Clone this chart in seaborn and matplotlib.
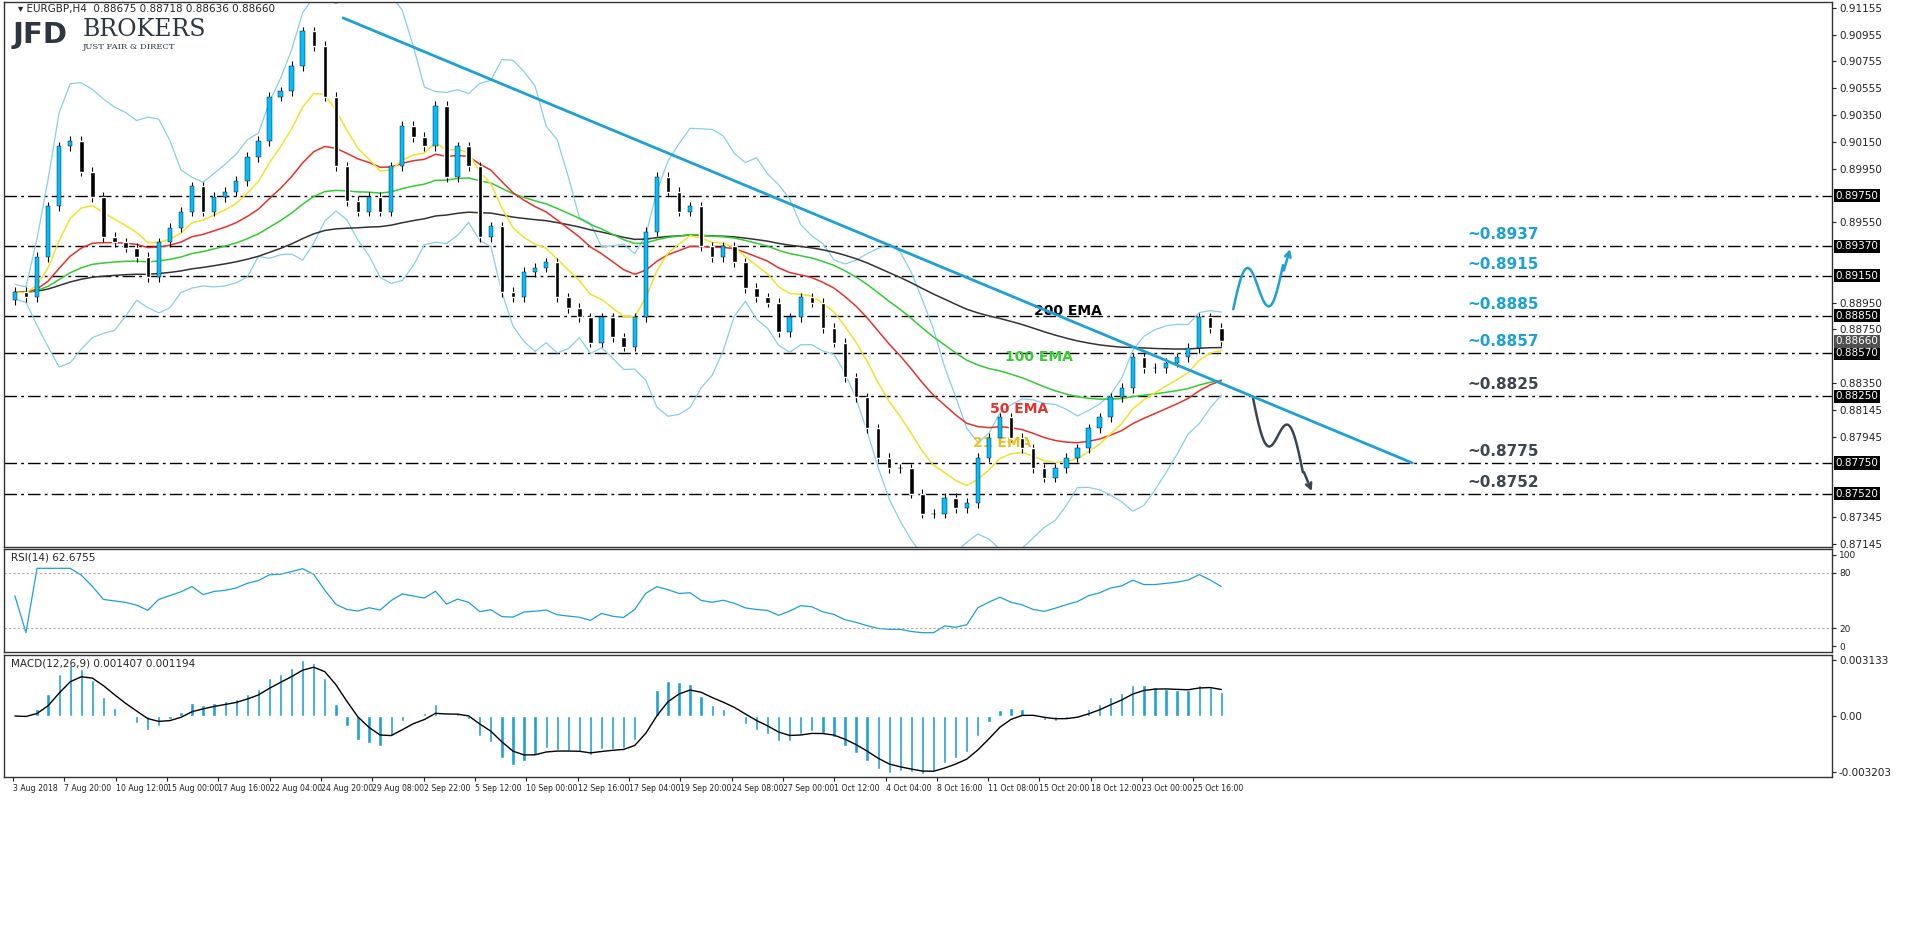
import numpy as np
import pandas as pd
import seaborn as sns
import matplotlib.pyplot as plt

# --- DATA (closes, one value every ~2 bars) ---
closes = [
    0.8903, 0.8899, 0.8929, 0.8967, 0.9012, 0.9016, 0.8993, 0.8974, 0.8944, 0.8940,
    0.8936, 0.8929, 0.8914, 0.8940, 0.8951, 0.8963, 0.8982, 0.8963, 0.8974, 0.8978,
    0.8986, 0.9004, 0.9016, 0.9049, 0.9053, 0.9072, 0.9098, 0.9087, 0.9049, 0.8997,
    0.8971, 0.8963, 0.8974, 0.8963, 0.8997, 0.9027, 0.9019, 0.9012, 0.9042, 0.8989,
    0.9012, 0.8997, 0.8944, 0.8952, 0.8903, 0.8899, 0.8918, 0.8921, 0.8925, 0.8899,
    0.8891, 0.8884, 0.8865, 0.8884, 0.8869, 0.8862, 0.8884, 0.8948, 0.8989, 0.8978,
    0.8963, 0.8967, 0.8937, 0.8929, 0.8937, 0.8925, 0.8906, 0.8899, 0.8895, 0.8873,
    0.8884, 0.8899, 0.8895, 0.8876, 0.8865, 0.8839, 0.8824, 0.8801, 0.8779, 0.8771,
    0.8771, 0.8752, 0.8737, 0.8737, 0.8749, 0.8741, 0.8745, 0.8779, 0.8794, 0.8809,
    0.8794, 0.8786, 0.8771, 0.8764, 0.8771, 0.8779, 0.8786, 0.8801, 0.8809, 0.8824,
    0.8831, 0.8854, 0.8846, 0.8846, 0.8850, 0.8854, 0.8861, 0.8884, 0.8876, 0.8866,
]
open0 = 0.8897

levels = [0.8975, 0.8937, 0.8915, 0.8885, 0.8857, 0.8825, 0.8775, 0.8752]
level_labels = ['', '~0.8937', '~0.8915', '~0.8885', '~0.8857', '~0.8825', '~0.8775', '~0.8752']
level_boxes = ['0.89750', '0.89370', '0.89150', '0.88850', '0.88570', '0.88250', '0.87750', '0.87520']
price_ticks = [0.91155, 0.90955, 0.90755, 0.90555, 0.90350, 0.90150, 0.89950, 0.89550,
               0.88950, 0.88750, 0.88350, 0.88145, 0.87945, 0.87345, 0.87145]
date_labels = ['3 Aug 2018', '7 Aug 20:00', '10 Aug 12:00', '15 Aug 00:00', '17 Aug 16:00',
               '22 Aug 04:00', '24 Aug 20:00', '29 Aug 08:00', '2 Sep 22:00', '5 Sep 12:00',
               '10 Sep 00:00', '12 Sep 16:00', '17 Sep 04:00', '19 Sep 20:00', '24 Sep 08:00',
               '27 Sep 00:00', '1 Oct 12:00', '4 Oct 04:00', '8 Oct 16:00', '11 Oct 08:00',
               '15 Oct 20:00', '18 Oct 12:00', '23 Oct 00:00', '25 Oct 16:00']
trend_price = [0.9108, 0.8775]   # start / end of the drawn resistance line

# --- INDICATORS (periods scaled to the reduced bar count) ---
df = pd.DataFrame({'close': closes})
df['open'] = df['close'].shift(1).fillna(open0)
df['high'] = df[['open', 'close']].max(axis=1) + 0.00035
df['low'] = df[['open', 'close']].min(axis=1) - 0.00035
n = len(df)
df['x'] = np.arange(n)
for name, span in [('e21', 8), ('e50', 20), ('e100', 40), ('e200', 80)]:
    df[name] = df['close'].ewm(span=span, adjust=False).mean()
mid = df['close'].rolling(10, min_periods=1).mean()
sd = df['close'].rolling(10, min_periods=2).std().bfill()
df['bbu'], df['bbl'] = mid + 2 * sd, mid - 2 * sd
delta = df['close'].diff().fillna(0)
up = delta.clip(lower=0).ewm(alpha=1 / 10, adjust=False).mean()
dn = (-delta.clip(upper=0)).ewm(alpha=1 / 10, adjust=False).mean()
df['rsi'] = 100 - 100 / (1 + up / dn.replace(0, 1e-9))
df['rsi'] = df['rsi'].clip(15, 85)
df.loc[0, 'rsi'] = 55
macd = df['close'].ewm(span=5, adjust=False).mean() - df['close'].ewm(span=10, adjust=False).mean()
df['macd'], df['sig'] = macd, macd.ewm(span=4, adjust=False).mean()

# --- FIGURE ---
sns.set_style('white')
plt.rcParams['font.family'] = ['DejaVu Sans']
fig = plt.figure(figsize=(19.16, 9.36), dpi=100)
W = 1832 / 1916
ax = fig.add_axes([0.002, 1 - 547 / 936, W - 0.002, 545 / 936])
ax_r = fig.add_axes([0.002, 1 - 652 / 936, W - 0.002, 103 / 936])
ax_m = fig.add_axes([0.002, 1 - 777 / 936, W - 0.002, 122 / 936])
xmax = (n - 1) * (1832 - 5) / (1218 - 5)
px = lambda p: (p - 5) / (1218 - 5) * (n - 1)

# candles
bull = df['close'] >= df['open']
ax.vlines(df['x'], df['low'], df['high'], color='black', lw=0.8, zorder=3)
ax.bar(df['x'][bull], (df['close'] - df['open'])[bull], bottom=df['open'][bull],
       width=0.4, color='#00bfff', edgecolor='black', lw=0.3, zorder=4)
ax.bar(df['x'][~bull], (df['close'] - df['open'])[~bull], bottom=df['open'][~bull],
       width=0.4, color='black', zorder=4)

for col, c, lw in [('bbu', '#87ceeb', 0.9), ('bbl', '#87ceeb', 0.9), ('e200', '#333333', 1.1),
                   ('e100', '#33cc33', 1.1), ('e50', '#e8312a', 1.1), ('e21', '#f2e22a', 1.1)]:
    sns.lineplot(data=df, x='x', y=col, color=c, lw=lw, ax=ax, zorder=2)

for lv, lab, box in zip(levels, level_labels, level_boxes):
    ax.axhline(lv, color='black', lw=1, ls=(0, (9, 3, 2, 3)), zorder=1)
    tc = '#1ba1d6' if lv > 0.8840 else '#3c4650'
    if lab:
        ax.text(px(1465), lv + 0.0003, lab, color=tc, fontsize=11, fontweight='bold', va='bottom')
    ax.text(1.002, lv, box, transform=ax.get_yaxis_transform(), fontsize=7.5, color='white',
            va='center', ha='left', bbox=dict(boxstyle='square,pad=0.15', fc='black', ec='none'))
ax.text(1.002, 0.8866, '0.88660', transform=ax.get_yaxis_transform(), fontsize=7.5, color='white',
        va='center', ha='left', bbox=dict(boxstyle='square,pad=0.15', fc='#505050', ec='none'))

ax.plot([px(335), px(1410)], trend_price, color='#1ba1d6', lw=2, zorder=5)
ax.text(px(1030), 0.8886, '200 EMA', fontsize=10, color='black', fontweight='bold')
ax.text(px(1000), 0.8851, '100 EMA', fontsize=10, color='#33cc33', fontweight='bold')
ax.text(px(985), 0.8812, '50 EMA', fontsize=10, color='#e8312a', fontweight='bold')
ax.text(px(968), 0.8787, '21 EMA', fontsize=10, color='#e8c020', fontweight='bold')

# scenario arrows
t = np.linspace(0, 1, 60)
ax.plot(px(1230 + 50 * t), 0.8890 + 0.0033 * t + 0.0022 * np.sin(2 * np.pi * t), color='#1ba1d6', lw=1.8)
ax.annotate('', xy=(px(1288), 0.8937), xytext=(px(1280), 0.8917),
            arrowprops=dict(arrowstyle='->', color='#1ba1d6', lw=1.8))
ax.plot(px(1250 + 50 * t), 0.8823 - 0.0055 * t - 0.0020 * np.sin(2 * np.pi * t), color='#3c4650', lw=1.8)
ax.annotate('', xy=(px(1310), 0.8752), xytext=(px(1300), 0.8770),
            arrowprops=dict(arrowstyle='->', color='#3c4650', lw=1.8))

ax.set_ylim(0.87121, 0.91199)
ax.set_yticks(price_ticks)
ax.set_yticklabels([f'{v:.5f}' for v in price_ticks])
ax.text(0.008, 0.997, '\u25be EURGBP,H4  0.88675 0.88718 0.88636 0.88660', transform=ax.transAxes,
        fontsize=7.5, va='top')
ax.text(0.005, 0.940, 'JFD', transform=ax.transAxes, fontsize=21, fontweight='bold',
        color='#2e3640', va='center')
ax.text(0.043, 0.950, 'BROKERS', transform=ax.transAxes, fontsize=17, family='DejaVu Serif',
        color='#2e3640', va='center')
ax.text(0.043, 0.917, 'JUST FAIR & DIRECT', transform=ax.transAxes, fontsize=6,
        family='DejaVu Serif', color='#2e3640', va='center')

# RSI
sns.lineplot(data=df, x='x', y='rsi', color='#1ba1d6', lw=0.9, ax=ax_r)
for v in (20, 80):
    ax_r.axhline(v, color='#aaaaaa', lw=0.8, ls=(0, (2, 2)))
ax_r.set_ylim(-6, 106)
ax_r.set_yticks([0, 20, 80, 100])
ax_r.text(0.004, 0.97, 'RSI(14) 62.6755', transform=ax_r.transAxes, fontsize=7.5, va='top')

# MACD
ax_m.bar(df['x'], df['macd'], width=0.3, color='#1ba1d6')
sns.lineplot(data=df, x='x', y='sig', color='black', lw=1, ax=ax_m)
lim = np.abs(df['macd']).max() * 1.05
ax_m.set_ylim(-lim, lim)
ax_m.set_yticks([lim * 0.92, 0, -lim * 0.92])
ax_m.set_yticklabels(['0.003133', '0.00', '-0.003203'])
ax_m.text(0.004, 0.97, 'MACD(12,26,9) 0.001407 0.001194', transform=ax_m.transAxes, fontsize=7.5, va='top')
ax_m.set_xticks(px(np.linspace(3, 1190, len(date_labels))))
ax_m.set_xticklabels(date_labels)

for a in (ax, ax_r, ax_m):
    a.set_xlim(-1, xmax)
    a.set_xlabel('')
    a.set_ylabel('')
    a.yaxis.tick_right()
    a.tick_params(labelsize=7.5, length=3, pad=2, right=True, direction='out', colors='#222222')
    for s in a.spines.values():
        s.set_color('#333333')
        s.set_linewidth(1)
    if a is not ax_m:
        a.set_xticks([])
ax_r.tick_params(labelsize=6.5)
ax_m.tick_params(axis='x', labelsize=5.6, length=3, bottom=True)
for lbl in ax_m.get_xticklabels():
    lbl.set_ha('left')

fig.savefig('out.png', dpi=100)
